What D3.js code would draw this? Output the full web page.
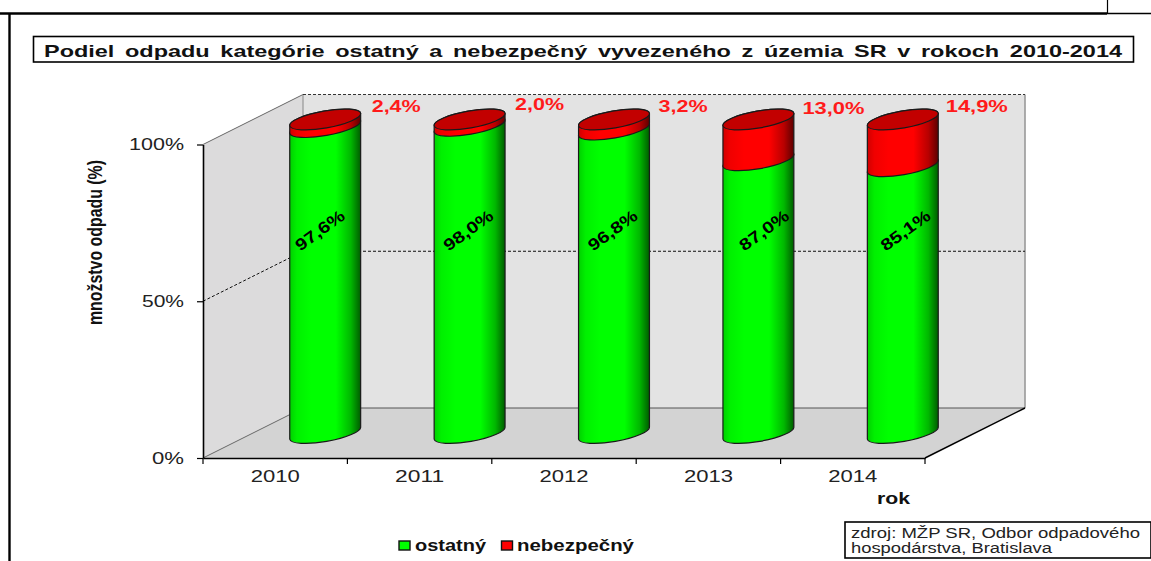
<!DOCTYPE html>
<html><head><meta charset="utf-8">
<script src="https://cdn.jsdelivr.net/npm/d3@7"></script>
<style>html,body{margin:0;padding:0;background:#fff;overflow:hidden}svg{display:block}text{font-family:"Liberation Sans",Arial,sans-serif}</style>
</head><body><script>
const years=["2010","2011","2012","2013","2014"];
const ostatny=[97.6,98.0,96.8,87.0,85.1];
const nebezpecny=[2.4,2.0,3.2,13.0,14.9];
const ostatnyLabels=["97,6%","98,0%","96,8%","87,0%","85,1%"];
const nebezpecnyLabels=["2,4%","2,0%","3,2%","13,0%","14,9%"];
const yTicks=[0,50,100];
const redNudgeX=[71,70,69,75,74], redNudgeY=[-13,-15,-13,-11,-13], greenNudgeX=[-2,2,2,9,6];

const W=1151,H=561;
const svg=d3.select("body").append("svg").attr("width",W).attr("height",H);
const defs=svg.append("defs");
function grad(id,stops){const g=defs.append("linearGradient").attr("id",id).attr("x1","0%").attr("x2","100%").attr("y1","0%").attr("y2","0%");
  stops.forEach(s=>g.append("stop").attr("offset",s[0]).attr("stop-color",s[1]));}
grad("gG",[[0,"#00d000"],[.1,"#00f000"],[.3,"#00ff00"],[.65,"#00ff00"],[.86,"#00b800"],[1,"#005c00"]]);
grad("gR",[[0,"#d00000"],[.1,"#f00000"],[.3,"#ff0000"],[.65,"#ff0000"],[.86,"#b80000"],[1,"#5c0000"]]);

// frame
const line=(x1,y1,x2,y2,c,w,d)=>svg.append("line").attr("x1",x1).attr("y1",y1).attr("x2",x2).attr("y2",y2).attr("stroke",c).attr("stroke-width",w).attr("stroke-dasharray",d||null);
line(0,13.5,1107,13.5,"#000",2.4);line(1107,13.5,W,13.5,"#000",1.4);
line(1107.5,0,1107.5,13,"#000",1.2);line(9.5,13,9.5,H,"#000",2.4);

function txt(x,y,s,size,len,o={}){
  return svg.append("text").attr("x",x).attr("y",y).attr("font-size",size).attr("font-weight",o.w||"normal")
   .attr("fill",o.c||"#000").attr("text-anchor",o.a||"start").attr("textLength",len).attr("lengthAdjust","spacingAndGlyphs")
   .attr("transform",o.t||null).style("word-spacing",o.ws||null).text(s);
}

// title
svg.append("rect").attr("x",33.5).attr("y",36.5).attr("width",1100).attr("height",25.5).attr("fill","#fff").attr("stroke","#000").attr("stroke-width",1.6);
txt(44,56.5,"Podiel odpadu kategórie ostatný a nebezpečný vyvezeného z územia SR v rokoch 2010-2014",17,1078,{w:"bold",ws:"3px",c:"#111"});

// 3D plot geometry
const x0=203,x1=925,yB=458,yT=144.5,dx=100,dy=-50;
const x=d3.scaleBand().domain(years).range([x0,x1]).padding(0);
const y=d3.scaleLinear().domain([0,100]).range([yB,yT]);
const poly=(pts,f)=>svg.append("polygon").attr("points",pts.map(p=>p.join(",")).join(" ")).attr("fill",f);
poly([[x0,y(100)],[x0+dx,y(100)+dy],[x0+dx,y(0)+dy],[x0,y(0)]],"#dcdbdc");
poly([[x0+dx,y(100)+dy],[x1+dx,y(100)+dy],[x1+dx,y(0)+dy],[x0+dx,y(0)+dy]],"#e3e3e3");
poly([[x0,y(0)],[x1,y(0)],[x1+dx,y(0)+dy],[x0+dx,y(0)+dy]],"#d3d3d3");
line(x0,y(100),x0+dx,y(100)+dy,"#666",1);
line(x0+dx,y(100)+dy,x0+dx,y(0)+dy,"#888",1);
line(x0,y(0),x0+dx,y(0)+dy,"#666",1);
line(x1+dx,y(100)+dy,x1+dx,y(0)+dy,"#999",1.6);
line(x0+dx,y(0)+dy,x1+dx,y(0)+dy,"#555",1);
line(x1,y(0),x1+dx,y(0)+dy,"#000",1.4);
line(x0+dx,y(100)+dy,x1+dx,y(100)+dy,"#333",1,"3,2");
yTicks.filter(t=>t>0&&t<100).forEach(t=>{
  line(x0,y(t),x0+dx,y(t)+dy,"#111",1,"3,2");
  line(x0+dx,y(t)+dy,x1+dx,y(t)+dy,"#111",1,"3,2");
});

// cylinders
const rx=36,ry=8.5,tilt=10,ca=Math.cos(tilt*Math.PI/180)*rx,sa=Math.sin(tilt*Math.PI/180)*rx;
const cyY=v=>y(v)+dy/2;
const cx=i=>x(years[i])+x.bandwidth()/2+dx/2;
const arc=(px,py)=>`A${rx} ${ry} ${-tilt} 0 0 ${px} ${py}`;
function side(i,a,b,fill){
  const c=cx(i),ya=cyY(a),yb=cyY(b);
  svg.append("path").attr("d",`M${c-ca} ${ya+sa}${arc(c+ca,ya-sa)}L${c+ca} ${yb-sa}${arc(c-ca,yb+sa)}Z`)
    .attr("fill",fill).attr("stroke","#1a1a1a").attr("stroke-width",1.2);
}
years.forEach((yr,i)=>{
  side(i,0,ostatny[i],"url(#gG)");
  side(i,ostatny[i],100,"url(#gR)");
  const c=cx(i),t=cyY(100);
  svg.append("ellipse").attr("cx",c).attr("cy",t).attr("rx",rx).attr("ry",ry)
    .attr("transform",`rotate(${-tilt} ${c} ${t})`).attr("fill","#c20000").attr("stroke","#1a1a1a").attr("stroke-width",1.2);
});
// value labels
years.forEach((yr,i)=>{
  const gx=cx(i)+greenNudgeX[i],gy=235;
  txt(gx,gy,ostatnyLabels[i],16.5,57,{w:"bold",a:"middle",t:`rotate(-36 ${gx} ${gy})`});
  const w=nebezpecnyLabels[i].length>4?62:49;
  txt(cx(i)+redNudgeX[i],cyY(100)+redNudgeY[i]+5,nebezpecnyLabels[i],16.5,w,{w:"bold",a:"middle",c:"#ff1a1a"});
});

// axes
const ya=svg.append("g").attr("transform",`translate(${x0},0)`).call(d3.axisLeft(y).tickValues(yTicks).tickFormat(d=>d+"%").tickSize(6).tickSizeOuter(0));
ya.select(".domain").attr("stroke","#000").attr("stroke-width",1.6);
ya.selectAll(".tick line").attr("stroke","#000").attr("stroke-width",1.2);
ya.selectAll("text").attr("x",-19).attr("font-size",16).attr("fill","#222")
  .attr("textLength",d=>d===100?55:d===50?42:32).attr("lengthAdjust","spacingAndGlyphs");
const xa=svg.append("g").attr("transform",`translate(0,${yB})`).call(d3.axisBottom(x).tickSize(0));
xa.select(".domain").attr("stroke","#000").attr("stroke-width",1.6);
xa.selectAll("text").attr("y",13).attr("dy","0.71em").attr("font-size",16).attr("fill","#222")
  .attr("textLength",49).attr("lengthAdjust","spacingAndGlyphs");
xa.selectAll(".edge").data(d3.range(years.length+1)).enter().append("line").attr("class","edge")
  .attr("x1",i=>x0+i*x.step()).attr("x2",i=>x0+i*x.step()).attr("y1",0).attr("y2",6).attr("stroke","#000").attr("stroke-width",1.2);

// axis titles
txt(0,0,"množstvo odpadu (%)",21,165,{w:"bold",a:"middle",c:"#111",t:"translate(102,242.5) rotate(-90)"});
txt(877,504,"rok",16,33,{w:"bold",c:"#111"});

// legend
const sw=(xp,f)=>svg.append("rect").attr("x",xp).attr("y",541).attr("width",11).attr("height",9).attr("fill",f).attr("stroke","#111").attr("stroke-width",1.4);
sw(399,"#00ff00");txt(415,551,"ostatný",16,71,{w:"bold",c:"#111"});
sw(501.5,"#ff0000");txt(517,551,"nebezpečný",16,117,{w:"bold",c:"#111"});

// source
svg.append("rect").attr("x",845).attr("y",522).attr("width",306).attr("height",36).attr("fill","#fff").attr("stroke","#000").attr("stroke-width",1.6);
txt(851,538,"zdroj: MŽP SR, Odbor odpadového",14,289,{c:"#222"});
txt(851,553,"hospodárstva,  Bratislava",14,201,{c:"#222"});
</script></body></html>
